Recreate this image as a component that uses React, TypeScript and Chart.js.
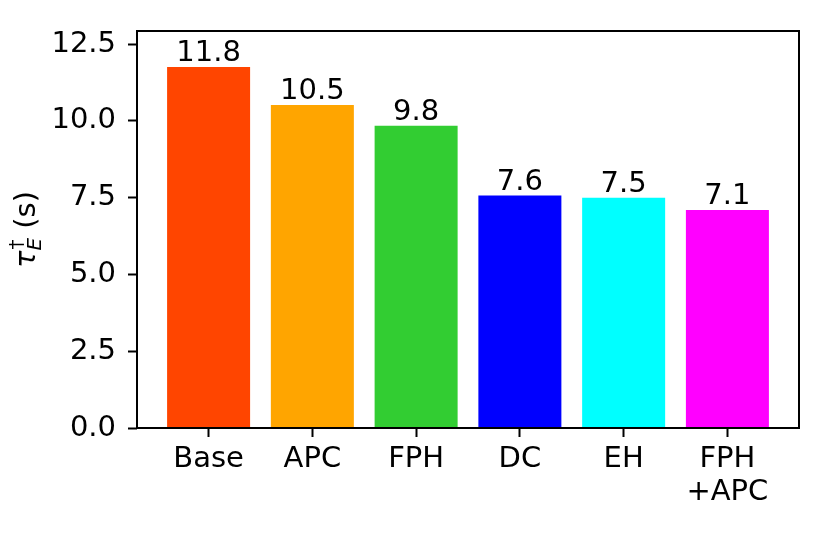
import React, { useEffect, useRef } from "react";
import { Chart, registerables } from "chart.js";

Chart.register(...registerables);

const categories = ["Base", "APC", "FPH", "DC", "EH", "FPH\n+APC"];
const values = [11.76, 10.52, 9.84, 7.57, 7.5, 7.1];
const colors = ["#FF4500", "#FFA500", "#32CD32", "#0000FF", "#00FFFF", "#FF00FF"];
const yTicks = [0, 2.5, 5, 7.5, 10, 12.5];
const valueLabels = values.map((v) => v.toFixed(1));

const FONT = "DejaVu Sans";
const FS = 29;

const framePlugin = {
  id: "frame",
  afterDraw(chart: any) {
    const { ctx, chartArea } = chart;
    ctx.save();
    ctx.strokeStyle = "#000";
    ctx.lineWidth = 2;
    ctx.strokeRect(chartArea.left, chartArea.top, chartArea.right - chartArea.left, chartArea.bottom - chartArea.top);
    ctx.restore();
  },
};

const valueLabelPlugin = {
  id: "valueLabels",
  afterDatasetsDraw(chart: any) {
    const { ctx } = chart;
    const meta = chart.getDatasetMeta(0);
    ctx.save();
    ctx.fillStyle = "#000";
    ctx.font = `${FS}px "${FONT}"`;
    ctx.textAlign = "center";
    ctx.textBaseline = "alphabetic";
    meta.data.forEach((bar: any, i: number) => {
      ctx.fillText(valueLabels[i], bar.x, bar.y - 6);
    });
    ctx.restore();
  },
};

const yTitlePlugin = {
  id: "yTitle",
  afterDraw(chart: any) {
    const { ctx, chartArea } = chart;
    const cy = (chartArea.top + chartArea.bottom) / 2;
    const small = 20;
    ctx.save();
    ctx.fillStyle = "#000";
    ctx.translate(35, cy);
    ctx.rotate(-Math.PI / 2);
    ctx.textBaseline = "alphabetic";
    ctx.textAlign = "left";
    const fMain = `italic ${FS}px "${FONT}"`;
    const fSmallIt = `italic ${small}px "${FONT}"`;
    const fSmall = `${small}px "${FONT}"`;
    const fReg = `${FS}px "${FONT}"`;
    ctx.font = fMain;
    const wTau = ctx.measureText("τ").width;
    ctx.font = fSmall;
    const wDag = ctx.measureText("†").width;
    ctx.font = fSmallIt;
    const wE = ctx.measureText("E").width;
    ctx.font = fReg;
    const wS = ctx.measureText(" (s)").width;
    const wSub = Math.max(wDag, wE);
    const total = wTau + wSub + wS;
    let x = -total / 2;
    ctx.font = fMain;
    ctx.fillText("τ", x, 0);
    x += wTau;
    ctx.font = fSmall;
    ctx.fillText("†", x + 1, -12);
    ctx.font = fSmallIt;
    ctx.fillText("E", x, 6);
    x += wSub;
    ctx.font = fReg;
    ctx.fillText(" (s)", x, 0);
    ctx.restore();
  },
};

export default function App() {
  const ref = useRef<HTMLCanvasElement | null>(null);

  useEffect(() => {
    if (!ref.current) return;
    Chart.defaults.color = "#000";
    const chart = new Chart(ref.current, {
      type: "bar",
      data: {
        datasets: [
          {
            data: values.map((v, i) => ({ x: i, y: v })),
            backgroundColor: colors,
            borderWidth: 0,
            categoryPercentage: 1,
            barPercentage: 0.8,
          },
        ],
      },
      options: {
        responsive: false,
        animation: false,
        layout: { padding: { left: 0, top: 31, right: 31, bottom: 0 } },
        plugins: { legend: { display: false }, tooltip: { enabled: false } },
        scales: {
          x: {
            type: "linear",
            min: -0.69,
            max: 5.69,
            offset: false,
            afterBuildTicks: (scale: any) => {
              scale.ticks = categories.map((_, i) => ({ value: i }));
            },
            afterFit: (scale: any) => {
              scale.height = 112;
            },
            ticks: {
              autoSkip: false,
              maxRotation: 0,
              minRotation: 0,
              padding: 6,
              color: "#000",
              font: { family: FONT, size: FS, lineHeight: 1.14 },
              callback: (v: any) => {
                const lab = categories[Math.round(Number(v))];
                return lab ? lab.split("\n") : "";
              },
            },
            grid: {
              display: true,
              offset: false,
              drawOnChartArea: false,
              drawTicks: true,
              tickLength: 9,
              tickColor: "#000",
              tickWidth: 2,
            },
            border: { display: false },
          },
          y: {
            type: "linear",
            min: 0,
            max: 12.93,
            afterBuildTicks: (scale: any) => {
              scale.ticks = yTicks.map((v) => ({ value: v }));
            },
            afterFit: (scale: any) => {
              scale.width = 137;
            },
            ticks: {
              padding: 12,
              color: "#000",
              font: { family: FONT, size: FS },
              callback: (v: any) => Number(v).toFixed(1),
            },
            grid: {
              display: true,
              drawOnChartArea: false,
              drawTicks: true,
              tickLength: 9,
              tickColor: "#000",
              tickWidth: 2,
            },
            border: { display: false },
          },
        },
      },
      plugins: [framePlugin, valueLabelPlugin, yTitlePlugin],
    } as any);
    return () => chart.destroy();
  }, []);

  return (
    <div style={{ position: "fixed", left: 0, top: 0, width: 830, height: 540, background: "#fff" }}>
      <canvas ref={ref} width={830} height={540} />
    </div>
  );
}
